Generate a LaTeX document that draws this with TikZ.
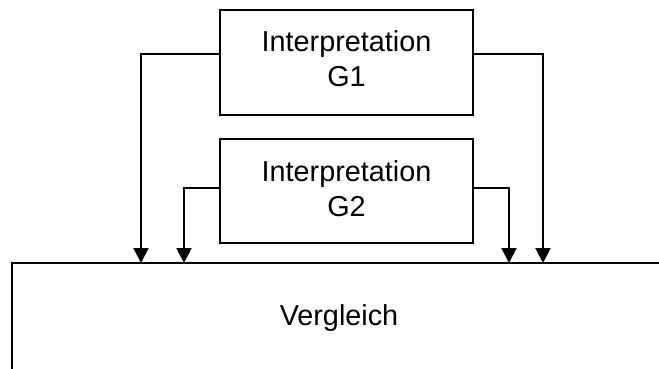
\documentclass[tikz,border=0pt]{standalone}
\usepackage{fontspec}
\setmainfont{Liberation Sans}
\usetikzlibrary{arrows.meta}
\begin{document}
\begin{tikzpicture}[x=0.5pt,y=-0.5pt,
  every node/.style={font=\fontsize{14.4pt}{17.5pt}\selectfont, align=center, inner sep=0pt},
  box/.style={draw, line width=1pt, minimum width=126.5pt, minimum height=52.5pt},
  conn/.style={line width=1pt, -{Triangle[length=7.5pt,width=7.5pt]}}]
\useasboundingbox (0,0) rectangle (659,369);
\clip (0,0) rectangle (659,369);
\node[box] (g1) at (346.5,62.5) {};
\node (g1t) at ([yshift=1.9pt]g1.center) {Interpretation\\G1};
\node[box, minimum height=52pt] (g2) at (346.5,191) {};
\node (g2t) at ([yshift=1.15pt]g2.center) {Interpretation\\G2};
\node[draw, line width=1pt, minimum width=327pt, minimum height=55pt] (verg) at (339,318) {Vergleich};
\coordinate (t1) at (141,263);
\coordinate (t2) at (184,263);
\coordinate (t3) at (509,263);
\coordinate (t4) at (543,263);
\draw[conn] ([yshift=4.25pt]g1.west) -| (t1);
\draw[conn] ([yshift=1.25pt]g2.west) -| (t2);
\draw[conn] ([yshift=1.25pt]g2.east) -| (t3);
\draw[conn] ([yshift=4.25pt]g1.east) -| (t4);
\end{tikzpicture}
\end{document}
